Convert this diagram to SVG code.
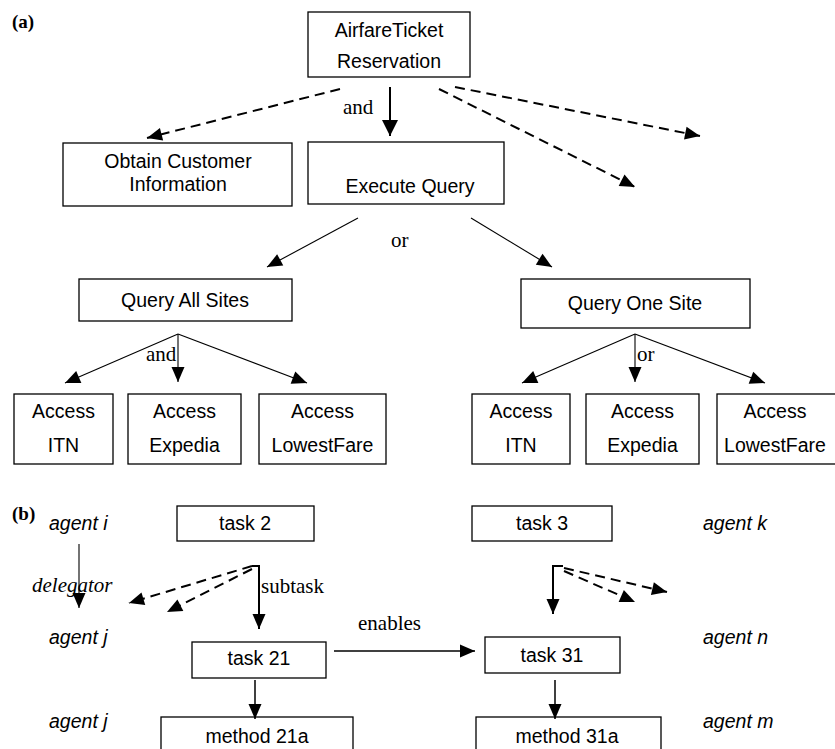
<svg xmlns="http://www.w3.org/2000/svg" width="835" height="749" viewBox="0 0 835 749">
<style>
.box{fill:#fff;stroke:#000;stroke-width:1.3}
.t{font-family:"Liberation Sans",Arial,sans-serif;font-size:19.5px;fill:#000;text-anchor:middle}
.ag{font-family:"Liberation Sans",Arial,sans-serif;font-size:19.5px;font-style:italic;fill:#000}
.s{font-family:"Liberation Serif","Times New Roman",serif;font-size:21px;fill:#000}
.si{font-family:"Liberation Serif","Times New Roman",serif;font-size:21px;font-style:italic;fill:#000}
.lbl{font-family:"Liberation Serif","Times New Roman",serif;font-size:19px;font-weight:bold;fill:#000}
.c{fill:none;stroke:#000}
.thin{stroke-width:1.1}
.mid{stroke-width:1.5}
.thick{stroke-width:2}
.dash{stroke-width:2;stroke-dasharray:10,6}
</style>
<defs>
<marker id="ah" markerUnits="userSpaceOnUse" markerWidth="15" markerHeight="13" refX="15" refY="6.5" orient="auto" overflow="visible">
<path d="M0,0 L15,6.5 L0,13 z" fill="#000"/>
</marker>
<marker id="ahb" markerUnits="userSpaceOnUse" markerWidth="16" markerHeight="16" refX="16" refY="8" orient="auto" overflow="visible">
<path d="M0,0 L16,8 L0,16 z" fill="#000"/>
</marker>
</defs>

<text class="lbl" x="12" y="28">(a)</text>
<text class="lbl" x="12" y="520">(b)</text>

<g id="airfare"><rect class="box" x="308" y="12" width="162" height="65"/><text class="t" x="389" y="37">AirfareTicket</text><text class="t" x="389" y="68">Reservation</text></g>
<g id="obtain"><rect class="box" x="63" y="143" width="229" height="63"/><text class="t" x="178" y="168">Obtain Customer</text><text class="t" x="178" y="191">Information</text></g>
<g id="execute"><rect class="box" x="308" y="142" width="196" height="62"/><text class="t" x="410" y="193">Execute Query</text></g>
<g id="queryall"><rect class="box" x="79" y="279" width="213" height="42"/><text class="t" x="185" y="307">Query All Sites</text></g>
<g id="queryone"><rect class="box" x="521" y="279" width="229" height="49"/><text class="t" x="635" y="310">Query One Site</text></g>

<g id="a-itn"><rect class="box" x="14" y="394" width="99" height="70"/><text class="t" x="63.5" y="418">Access</text><text class="t" x="63.5" y="452">ITN</text></g>
<g id="a-exp"><rect class="box" x="128" y="394" width="113" height="70"/><text class="t" x="184.5" y="418">Access</text><text class="t" x="184.5" y="452">Expedia</text></g>
<g id="a-low"><rect class="box" x="259" y="394" width="127" height="70"/><text class="t" x="322.5" y="418">Access</text><text class="t" x="322.5" y="452">LowestFare</text></g>
<g id="o-itn"><rect class="box" x="472" y="394" width="98" height="70"/><text class="t" x="521" y="418">Access</text><text class="t" x="521" y="452">ITN</text></g>
<g id="o-exp"><rect class="box" x="586" y="394" width="113" height="70"/><text class="t" x="642.5" y="418">Access</text><text class="t" x="642.5" y="452">Expedia</text></g>
<g id="o-low"><rect class="box" x="717" y="394" width="120" height="70"/><text class="t" x="775" y="418">Access</text><text class="t" x="775" y="452">LowestFare</text></g>

<g id="task2"><rect class="box" x="177" y="506" width="137" height="35"/><text class="t" x="245" y="530">task 2</text></g>
<g id="task3"><rect class="box" x="472" y="506" width="140" height="35"/><text class="t" x="542" y="530">task 3</text></g>
<g id="task21"><rect class="box" x="192" y="642" width="134" height="36"/><text class="t" x="259" y="665">task 21</text></g>
<g id="task31"><rect class="box" x="485" y="637" width="135" height="36"/><text class="t" x="552" y="662">task 31</text></g>
<g id="method21a"><rect class="box" x="161" y="717" width="192" height="50"/><text class="t" x="257" y="743">method 21a</text></g>
<g id="method31a"><rect class="box" x="476" y="717" width="185" height="50"/><text class="t" x="567" y="743">method 31a</text></g>

<g id="agents">
<text class="ag" x="49" y="530">agent i</text>
<text class="ag" x="49" y="644">agent j</text>
<text class="ag" x="49" y="728">agent j</text>
<text class="ag" x="703" y="530">agent k</text>
<text class="ag" x="703" y="644">agent n</text>
<text class="ag" x="703" y="728">agent m</text>
</g>

<g id="connectors">
<line class="c dash" x1="340" y1="89" x2="147" y2="138" marker-end="url(#ah)"/>
<line class="c dash" x1="455" y1="87" x2="700" y2="136" marker-end="url(#ah)"/>
<line class="c dash" x1="439" y1="89" x2="635" y2="187" marker-end="url(#ah)"/>
<line class="c thick" x1="390" y1="87" x2="390" y2="136" marker-end="url(#ahb)"/>
<text class="s" x="343" y="114">and</text>

<line class="c thin" x1="358" y1="218" x2="267" y2="267" marker-end="url(#ah)"/>
<line class="c thin" x1="471" y1="218" x2="552" y2="267" marker-end="url(#ah)"/>
<text class="s" x="391" y="247">or</text>

<line class="c thin" x1="178" y1="334" x2="65" y2="383" marker-end="url(#ah)"/>
<line class="c thin" x1="178" y1="334" x2="178" y2="382" marker-end="url(#ah)"/>
<line class="c thin" x1="178" y1="334" x2="307" y2="383" marker-end="url(#ah)"/>
<text class="s" x="146" y="361">and</text>

<line class="c thin" x1="635" y1="334" x2="522" y2="383" marker-end="url(#ah)"/>
<line class="c thin" x1="635" y1="334" x2="635" y2="382" marker-end="url(#ah)"/>
<line class="c thin" x1="635" y1="334" x2="765" y2="383" marker-end="url(#ah)"/>
<text class="s" x="637" y="361">or</text>

<line class="c thin" x1="79" y1="544" x2="79" y2="608" marker-end="url(#ah)"/>
<text class="si" x="32" y="592">delegator</text>

<path class="c thick" d="M252,566 L259,566 L259,629" marker-end="url(#ah)"/>
<line class="c dash" x1="252" y1="566" x2="129" y2="603" marker-end="url(#ah)"/>
<line class="c dash" x1="252" y1="569" x2="167" y2="612" marker-end="url(#ah)"/>
<text class="s" x="261" y="593">subtask</text>

<path class="c thick" d="M563,566 L553,566 L553,614" marker-end="url(#ah)"/>
<line class="c dash" x1="564" y1="568" x2="667" y2="592" marker-end="url(#ah)"/>
<line class="c dash" x1="564" y1="571" x2="635" y2="602" marker-end="url(#ah)"/>

<line class="c mid" x1="334" y1="651" x2="475" y2="651" marker-end="url(#ah)"/>
<text class="s" x="358" y="630">enables</text>

<line class="c mid" x1="255" y1="680" x2="255" y2="719" marker-end="url(#ah)"/>
<line class="c mid" x1="555" y1="680" x2="555" y2="719" marker-end="url(#ah)"/>
</g>
</svg>
